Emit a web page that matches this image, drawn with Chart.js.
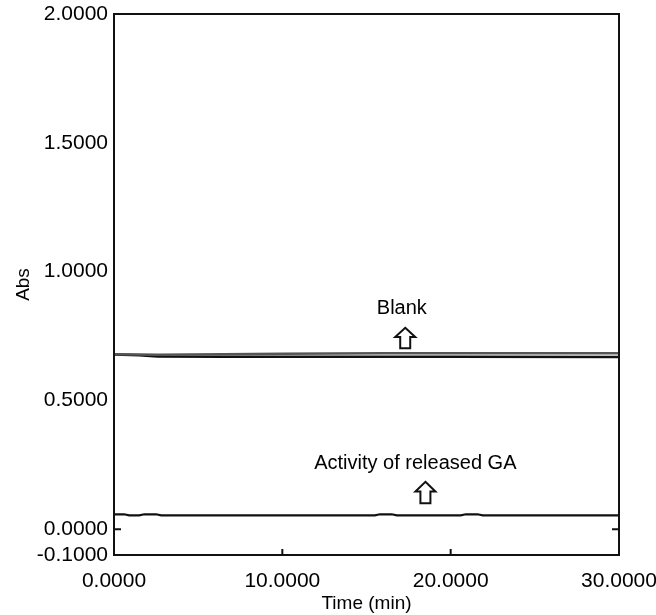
<!DOCTYPE html>
<html>
<head>
<meta charset="utf-8">
<script src="https://cdn.jsdelivr.net/npm/chart.js@4.4.1/dist/chart.umd.min.js"></script>
<style>
  html, body { margin: 0; padding: 0; background: #fff; }
  #wrap { width: 656px; height: 615px; }
</style>
</head>
<body>
<div id="wrap"><canvas id="myChart"></canvas></div>
<script>
// time (min) / absorbance
const blankUpper = [
  [0, 0.679], [1.5, 0.678], [2.6, 0.677], [6.5, 0.679], [10, 0.681],
  [16, 0.683], [20, 0.683], [30, 0.683],
];
const blankLower = [
  [0, 0.678], [1.5, 0.675], [2.6, 0.671], [6.5, 0.670], [15, 0.670],
  [20, 0.670], [30, 0.669],
];
const activity = [
  [0, 0.058], [0.6, 0.058], [0.9, 0.054], [1.5, 0.054], [1.8, 0.058],
  [2.5, 0.058], [2.8, 0.054], [15.5, 0.054], [15.8, 0.058], [16.5, 0.058],
  [16.8, 0.054], [20.6, 0.054], [20.9, 0.058], [21.6, 0.058], [21.9, 0.054],
  [30, 0.054],
];

const xTicks = [0, 10, 20, 30];
const yTicks = [-0.1, 0, 0.5, 1.0, 1.5, 2.0];
// small inward tick marks seen on the frame
const xMarks = [10, 20];
const yMarks = [0];

// labels and arrows: [x, y] in data units
const labels = [
  { text: 'Blank', at: [17.1, 0.855] },
  { text: 'Activity of released GA', at: [17.9, 0.255] },
];
const arrows = [
  { at: [17.3, 0.703], top: 0.782 },
  { at: [18.5, 0.101], top: 0.184 },
];

const FONT = 'Liberation Sans, Arial, sans-serif';

const toPts = arr => arr.map(p => ({ x: p[0], y: p[1] }));

const frame = {
  id: 'frame',
  afterDatasetsDraw(chart) {
    const { ctx, chartArea: a, scales: { x, y } } = chart;
    ctx.save();
    ctx.strokeStyle = '#111';
    ctx.lineWidth = 2;
    ctx.strokeRect(a.left, a.top, a.right - a.left, a.bottom - a.top);

    ctx.beginPath();
    xMarks.forEach(v => {
      const px = x.getPixelForValue(v);
      ctx.moveTo(px, a.bottom);
      ctx.lineTo(px, a.bottom - 6);
    });
    yMarks.forEach(v => {
      const py = y.getPixelForValue(v);
      ctx.moveTo(a.left, py);
      ctx.lineTo(a.left + 7, py);
      ctx.moveTo(a.right, py);
      ctx.lineTo(a.right - 7, py);
    });
    ctx.stroke();

    // outlined up arrows
    ctx.lineWidth = 2;
    ctx.fillStyle = '#fff';
    arrows.forEach(ar => {
      const cx = x.getPixelForValue(ar.at[0]);
      const yb = y.getPixelForValue(ar.at[1]);
      const yt = y.getPixelForValue(ar.top);
      const headH = (yb - yt) * 0.45;
      const hw = 10, sw = 5;
      ctx.beginPath();
      ctx.moveTo(cx, yt);
      ctx.lineTo(cx + hw, yt + headH);
      ctx.lineTo(cx + sw, yt + headH);
      ctx.lineTo(cx + sw, yb);
      ctx.lineTo(cx - sw, yb);
      ctx.lineTo(cx - sw, yt + headH);
      ctx.lineTo(cx - hw, yt + headH);
      ctx.closePath();
      ctx.fill();
      ctx.stroke();
    });

    ctx.fillStyle = '#000';
    ctx.font = '20px ' + FONT;
    ctx.textAlign = 'center';
    ctx.textBaseline = 'middle';
    labels.forEach(l => {
      ctx.fillText(l.text, x.getPixelForValue(l.at[0]), y.getPixelForValue(l.at[1]));
    });
    ctx.restore();
  },
};

const ctx = document.getElementById('myChart').getContext('2d');
const myChart = new Chart(ctx, {
  type: 'line',
  data: {
    datasets: [
      {
        label: 'Blank (upper)',
        data: toPts(blankUpper),
        borderColor: '#555',
        borderWidth: 2.5,
        pointRadius: 0,
      },
      {
        label: 'Blank (lower)',
        data: toPts(blankLower),
        borderColor: '#111',
        borderWidth: 2.5,
        pointRadius: 0,
      },
      {
        label: 'Activity of released GA',
        data: toPts(activity),
        borderColor: '#111',
        borderWidth: 2.2,
        pointRadius: 0,
      },
    ],
  },
  plugins: [frame],
  options: {
    responsive: true,
    maintainAspectRatio: false,
    animation: false,
    layout: { padding: { top: 14, right: 37, left: 0, bottom: 0 } },
    plugins: {
      legend: { display: false },
      tooltip: { enabled: false },
    },
    scales: {
      x: {
        type: 'linear',
        min: 0,
        max: 30,
        afterBuildTicks: s => { s.ticks = xTicks.map(v => ({ value: v })); },
        afterFit: s => { s.height = 60; s.paddingLeft = 0; s.paddingRight = 0; },
        grid: { display: false, drawTicks: false },
        border: { display: false },
        ticks: {
          padding: 14,
          maxRotation: 0,
          color: '#000',
          font: { family: FONT, size: 21 },
          callback: v => v.toFixed(4),
        },
        title: {
          display: true,
          text: 'Time (min)',
          color: '#000',
          font: { family: FONT, size: 19 },
          padding: { top: 0, bottom: 0 },
        },
      },
      y: {
        min: -0.1,
        max: 2.0,
        afterBuildTicks: s => { s.ticks = yTicks.map(v => ({ value: v })); },
        afterFit: s => { s.width = 114; s.paddingTop = 0; s.paddingBottom = 0; },
        grid: { display: false, drawTicks: false },
        border: { display: false },
        ticks: {
          padding: 6,
          color: '#000',
          font: { family: FONT, size: 21 },
          callback: v => v.toFixed(4),
        },
        title: {
          display: true,
          text: 'Abs',
          color: '#000',
          font: { family: FONT, size: 19 },
          padding: { top: 12, bottom: 0 },
        },
      },
    },
  },
});
</script>
</body>
</html>
